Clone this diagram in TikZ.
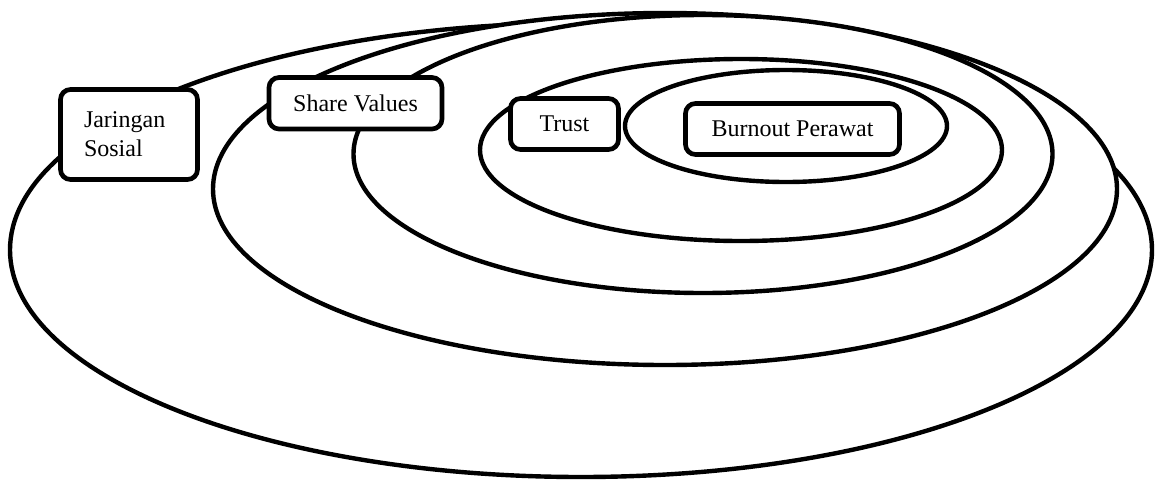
\documentclass[tikz,border=0pt]{standalone}
\usepackage{fontspec}
\setmainfont{Liberation Serif}
\begin{document}
\begin{tikzpicture}[x=0.75pt,y=-0.75pt,
  ring/.style={draw=black,fill=white,line width=3.3pt},
  lbox/.style={draw=black,fill=white,line width=3.5pt,rounded corners=7.5pt,
    inner sep=0pt,align=center,
    font=\fontsize{18pt}{21.75pt}\selectfont}]
\useasboundingbox (0,0) rectangle (1157,482);
% rings, outermost first
\path[ring] (581,250) ellipse [x radius=428.25pt, y radius=170.25pt];
\path[ring] (665,189) ellipse [x radius=339pt, y radius=132pt];
\path[ring] (703,154) ellipse [x radius=262.125pt, y radius=104.25pt];
\path[ring] (741,150) ellipse [x radius=195.75pt, y radius=68.25pt];
\path[ring] (786,126) ellipse [x radius=120.75pt, y radius=42pt];
% labels
\node[lbox,minimum width=102.75pt,minimum height=67.5pt,text width=67.5pt,align=left] (js) at (129,134.5) {Jaringan\\Sosial};
\node[lbox,minimum width=129.75pt,minimum height=38.6pt] (sv) at (355.5,103.25) {Share Values};
\node[lbox,minimum width=81pt,minimum height=38.25pt] (tr) at (564.5,124) {Trust};
\node[lbox,minimum width=160.5pt,minimum height=38.25pt] (bp) at (792.5,129) {Burnout Perawat};
\end{tikzpicture}
\end{document}
